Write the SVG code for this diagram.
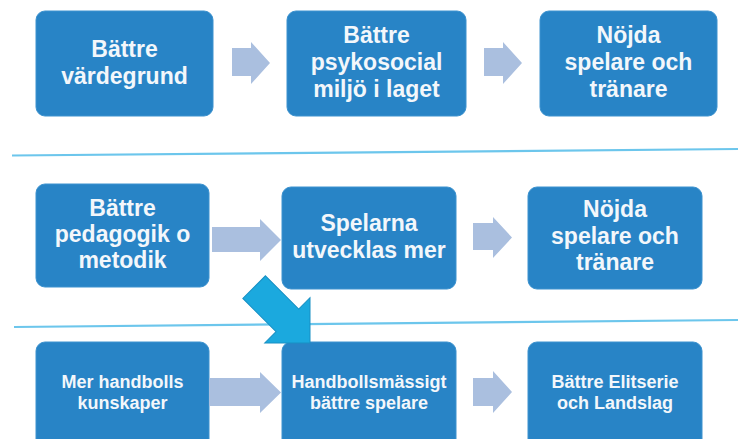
<svg xmlns="http://www.w3.org/2000/svg" width="738" height="439" viewBox="0 0 738 439">
<defs>
<style>
.box{fill:#2884C6;stroke:#3C92CF;stroke-width:1}
.t{font-family:"Liberation Sans",Arial,sans-serif;font-weight:bold;fill:#F3F7FB;text-anchor:middle}
.big{font-size:23px}
.small{font-size:18px}
.arr{fill:#AABFDF}
.sep{stroke:#6CC6EC;stroke-width:2.2;fill:none}
</style>
</defs>
<rect width="738" height="439" fill="#FFFFFF"/>
<g id="separators">
<line class="sep" x1="12" y1="155.5" x2="738" y2="149"/>
<line class="sep" x1="14" y1="327" x2="738" y2="320"/>
</g>
<g id="n1"><rect class="box" x="36" y="11" width="177" height="105" rx="9"/>
<text class="t big" x="124.5"><tspan x="124.5" y="57">Bättre</tspan><tspan x="124.5" y="84">värdegrund</tspan></text></g>
<g id="n2"><rect class="box" x="287" y="11" width="179" height="105" rx="9"/>
<text class="t big"><tspan x="376.5" y="43">Bättre</tspan><tspan x="376.5" y="70">psykosocial</tspan><tspan x="376.5" y="97">miljö i laget</tspan></text></g>
<g id="n3"><rect class="box" x="540" y="11" width="177" height="105" rx="9"/>
<text class="t big"><tspan x="628.5" y="43">Nöjda</tspan><tspan x="628.5" y="70">spelare och</tspan><tspan x="628.5" y="97">tränare</tspan></text></g>
<g id="n4"><rect class="box" x="36" y="184" width="173" height="103" rx="9"/>
<text class="t big"><tspan x="122.5" y="216">Bättre</tspan><tspan x="122.5" y="242">pedagogik o</tspan><tspan x="122.5" y="268">metodik</tspan></text></g>
<g id="n5"><rect class="box" x="282" y="187" width="174" height="102" rx="9"/>
<text class="t big"><tspan x="369" y="231">Spelarna</tspan><tspan x="369" y="258">utvecklas mer</tspan></text></g>
<g id="n6"><rect class="box" x="528" y="187" width="174" height="102" rx="9"/>
<text class="t big"><tspan x="615" y="217">Nöjda</tspan><tspan x="615" y="244">spelare och</tspan><tspan x="615" y="270">tränare</tspan></text></g>
<g id="n7"><rect class="box" x="36" y="342" width="173" height="110" rx="9"/>
<text class="t small"><tspan x="122.5" y="388">Mer handbolls</tspan><tspan x="122.5" y="409">kunskaper</tspan></text></g>
<g id="n8"><rect class="box" x="282" y="342" width="174" height="110" rx="9"/>
<text class="t small"><tspan x="369" y="388">Handbollsmässigt</tspan><tspan x="369" y="409">bättre spelare</tspan></text></g>
<g id="n9"><rect class="box" x="528" y="342" width="174" height="110" rx="9"/>
<text class="t small"><tspan x="615" y="388">Bättre Elitserie</tspan><tspan x="615" y="409">och Landslag</tspan></text></g>
<g id="connectors">
<polygon class="arr" points="232,48 251,48 251,42 270,63 251,84 251,76 232,76"/>
<polygon class="arr" points="484,48 503,48 503,42 522,63 503,84 503,76 484,76"/>
<polygon class="arr" points="212,227 260,227 260,219 281,240 260,261 260,252 212,252"/>
<polygon class="arr" points="473,223 493,223 493,217 512,237.5 493,258 493,250 473,250"/>
<polygon class="arr" points="209,378 260,378 260,372 281,392.5 260,413 260,406 209,406"/>
<polygon class="arr" points="473,378 493,378 493,371 512,392 493,413 493,406 473,406"/>
<polygon transform="translate(310,343) rotate(45)" points="-79,-16 -32,-16 -32,-32 0,0 -32,32 -32,16 -79,16" fill="#1BA9DE" stroke="#1890C4" stroke-width="1"/>
</g>
</svg>
